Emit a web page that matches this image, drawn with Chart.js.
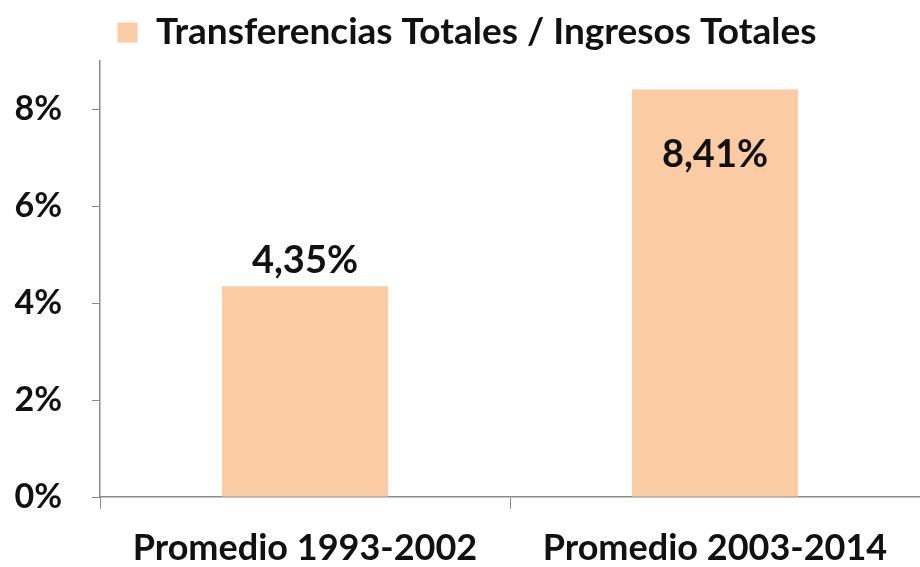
<!DOCTYPE html>
<html>
<head>
<meta charset="utf-8">
<script src="https://cdn.jsdelivr.net/npm/chart.js@4.4.1/dist/chart.umd.min.js"></script>
<style>
  html, body { margin: 0; padding: 0; background: #fff; }
  #wrap { width: 920px; height: 567px; }
</style>
</head>
<body>
<div id="wrap"><canvas id="chart" width="920" height="567"></canvas></div>
<script>
// Datos del gráfico
const categories = ['Promedio 1993-2002', 'Promedio 2003-2014'];
const values = [4.35, 8.41];
const yTicks = [0, 2, 4, 6, 8];
const seriesName = 'Transferencias Totales / Ingresos Totales';

const barColor = '#FBCBA3';
const axisColor = '#8c8c8c';
const fontFamily = 'Lato, "Open Sans", sans-serif';

// Etiquetas de valor: la primera encima de la barra, la segunda dentro
const valueLabels = {
    id: 'valueLabels',
    afterDatasetsDraw(chart) {
        const ctx = chart.ctx;
        const meta = chart.getDatasetMeta(0);
        ctx.save();
        ctx.font = 'bold 38px ' + fontFamily;
        ctx.fillStyle = '#111';
        ctx.textAlign = 'center';
        ctx.textBaseline = 'middle';
        meta.data.forEach((bar, i) => {
            const text = values[i].toFixed(2).replace('.', ',') + '%';
            const y = i === 0 ? bar.y - 26 : bar.y + 65;
            ctx.fillText(text, bar.x, y);
        });
        ctx.restore();
    }
};

const ctx = document.getElementById('chart').getContext('2d');
new Chart(ctx, {
    type: 'bar',
    data: {
        labels: categories,
        datasets: [{
            label: seriesName,
            data: values,
            backgroundColor: barColor,
            borderWidth: 0,
            barPercentage: 0.405,
            categoryPercentage: 1
        }]
    },
    options: {
        responsive: false,
        animation: false,
        layout: { padding: { left: 14, right: 0, top: 2, bottom: 0 } },
        plugins: {
            legend: {
                position: 'top',
                labels: {
                    boxWidth: 20,
                    boxHeight: 20,
                    color: '#111',
                    padding: 12,
                    font: { family: fontFamily, size: 37, weight: 'bold' }
                }
            },
            tooltip: { enabled: false }
        },
        scales: {
            x: {
                afterFit(axis) { axis.height = 70; },
                grid: {
                    offset: true,
                    drawOnChartArea: false,
                    tickLength: 12,
                    color: axisColor
                },
                border: { color: axisColor, width: 1.5 },
                ticks: {
                    color: '#111',
                    padding: 18,
                    font: { family: fontFamily, size: 36, weight: 'bold' }
                }
            },
            y: {
                min: 0,
                max: 9,
                afterFit(axis) { axis.width = 86; },
                afterBuildTicks(axis) {
                    axis.ticks = yTicks.map(v => ({ value: v }));
                },
                grid: {
                    drawOnChartArea: false,
                    tickLength: 8,
                    color: axisColor
                },
                border: { color: axisColor, width: 1.5 },
                ticks: {
                    color: '#111',
                    padding: 30,
                    font: { family: fontFamily, size: 34, weight: 'bold' },
                    callback: v => v + '%'
                }
            }
        }
    },
    plugins: [valueLabels]
});
</script>
</body>
</html>
